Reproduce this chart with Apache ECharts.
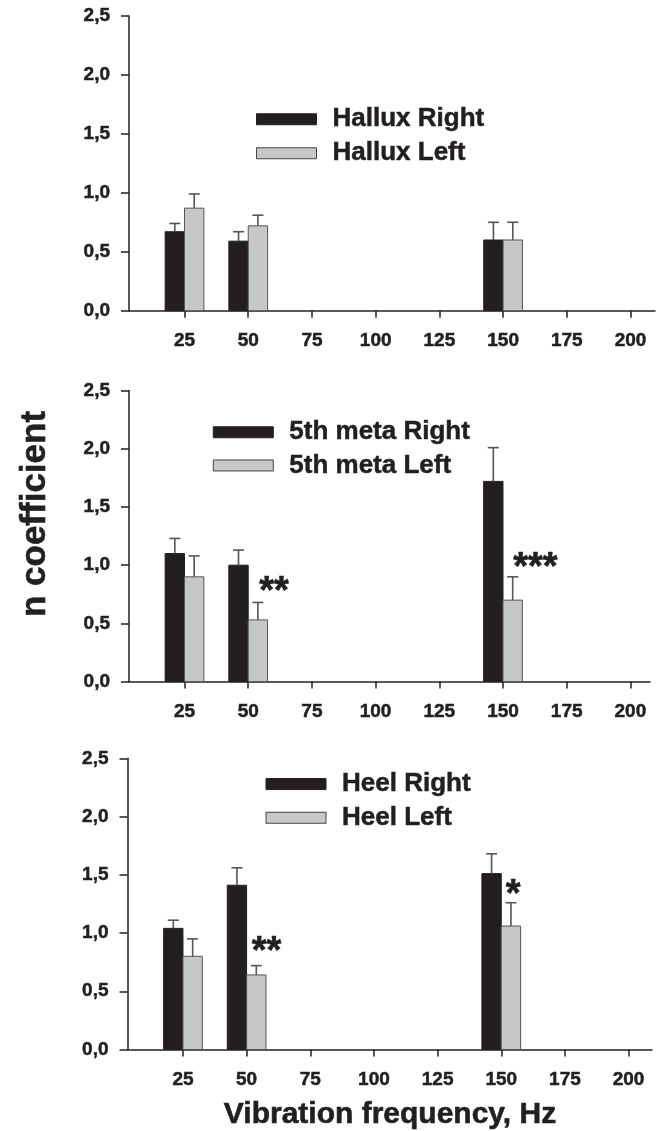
<!DOCTYPE html>
<html>
<head>
<meta charset="utf-8">
<script src="https://cdn.jsdelivr.net/npm/echarts@6/dist/echarts.min.js"></script>
<style>html,body{margin:0;padding:0;background:#fff}#c{width:666px;height:1131px}</style>
</head>
<body>
<div id="c"></div>
<script>
// ---- data ----
const xTickLabels = [25, 50, 75, 100, 125, 150, 175, 200];
const yTickLabels = ['0,0', '0,5', '1,0', '1,5', '2,0', '2,5'];
const barFreqs = [25, 50, 150];

const halluxRight   = [0.67, 0.59, 0.60];
const halluxRightSE = [0.07, 0.08, 0.15];
const halluxLeft    = [0.87, 0.72, 0.60];
const halluxLeftSE  = [0.12, 0.09, 0.15];

const metaRight   = [1.10, 1.00, 1.72];
const metaRightSE = [0.13, 0.13, 0.29];
const metaLeft    = [0.90, 0.53, 0.70];
const metaLeftSE  = [0.18, 0.15, 0.20];

const heelRight   = [1.04, 1.41, 1.51];
const heelRightSE = [0.07, 0.15, 0.17];
const heelLeft    = [0.80, 0.64, 1.06];
const heelLeftSE  = [0.15, 0.08, 0.20];

const panelNames = [
  ['Hallux Right', 'Hallux Left'],
  ['5th meta Right', '5th meta Left'],
  ['Heel Right', 'Heel Left']
];
// significance marks: [x, y, text]
const sigMarks = [
  [],
  [[60.1, 0.84, '**'], [162.7, 1.05, '***']],
  [[57.8, 0.91, '**'], [154.7, 1.40, '*']]
];
const xTitle = 'Vibration frequency, Hz';
const yTitle = 'n coefficient';

// ---- layout / style ----
const FONT = 'Liberation Sans';
const INK = '#231f20';
const DARK = '#231f20';
const GREY = '#c6c7c9';
const ERR = '#555555';
const BAR_W = 7.6; // in x-axis units
const grids = [
  {left: 129, top: 16, height: 294.7, right: 11},
  {left: 129, top: 390.6, height: 291, right: 16},
  {left: 127.5, top: 758.3, height: 291.2, right: 14}
];
const xMin = 3.22;
const xMax = [209.6, 207.7, 209.2];
const legendPos = [
  {left: 256, top: 106, itemGap: 7.5},
  {left: 212.8, top: 419, itemGap: 6.7},
  {left: 265.5, top: 770.8, itemGap: 7.2}
];

function mk(vals, ses) { return barFreqs.map((f, i) => [f, vals[i], ses[i]]); }
const panelData = [
  [mk(halluxRight, halluxRightSE), mk(halluxLeft, halluxLeftSE)],
  [mk(metaRight, metaRightSE), mk(metaLeft, metaLeftSE)],
  [mk(heelRight, heelRightSE), mk(heelLeft, heelLeftSE)]
];

function barRenderer(side, fill, stroke) {
  return function (params, api) {
    const x = api.value(0), v = api.value(1), se = api.value(2);
    const x0 = side < 0 ? x - BAR_W : x;
    const x1 = side < 0 ? x : x + BAR_W;
    const p0 = api.coord([x0, v]);
    const p1 = api.coord([x1, 0]);
    const cx = (p0[0] + p1[0]) / 2;
    const et = api.coord([x, v + se])[1];
    return {
      type: 'group',
      children: [
        {type: 'rect', shape: {x: p0[0], y: p0[1], width: p1[0] - p0[0], height: p1[1] - p0[1]},
         style: {fill: fill, stroke: stroke, lineWidth: 1}},
        {type: 'line', shape: {x1: cx, y1: p0[1], x2: cx, y2: et}, style: {stroke: ERR, lineWidth: 1.6}},
        {type: 'line', shape: {x1: cx - 5.5, y1: et, x2: cx + 5.5, y2: et}, style: {stroke: ERR, lineWidth: 1.6}}
      ]
    };
  };
}

function sigRenderer(params, api) {
  const p = api.coord([api.value(0), api.value(1)]);
  return {
    type: 'text',
    style: {text: api.value(2), x: p[0], y: p[1] + 9, align: 'center', verticalAlign: 'middle',
            font: 'bold 38px "' + FONT + '"', fill: INK, stroke: INK, lineWidth: 0.6}
  };
}

const labelFont = {color: INK, fontFamily: FONT, fontWeight: 'bold', fontSize: 19,
                   textBorderColor: INK, textBorderWidth: 0.5};

const option = {
  backgroundColor: '#fff',
  animation: false,
  grid: grids,
  xAxis: grids.map((g, i) => Object.assign({
    type: 'value', gridIndex: i, min: xMin, max: xMax[i],
    axisLine: {show: true, onZero: false, lineStyle: {color: INK, width: 1.5}},
    axisTick: {show: true, length: 7, customValues: xTickLabels, lineStyle: {color: INK, width: 1.5}},
    axisLabel: Object.assign({customValues: xTickLabels, margin: 21}, labelFont),
    splitLine: {show: false}
  })),
  yAxis: grids.map((g, i) => ({
    type: 'value', gridIndex: i, min: 0, max: 2.5, interval: 0.5,
    axisLine: {show: true, lineStyle: {color: INK, width: 1.5}},
    axisTick: {show: true, length: 8, lineStyle: {color: INK, width: 1.5}},
    axisLabel: Object.assign({margin: 19, formatter: v => yTickLabels[Math.round(v / 0.5)]}, labelFont),
    splitLine: {show: false}
  })),
  legend: legendPos.map((lp, i) => ({
    orient: 'vertical', left: lp.left, top: lp.top, itemGap: lp.itemGap, padding: 0,
    itemWidth: 60, itemHeight: 11, icon: 'rect', selectedMode: false,
    data: [
      {name: panelNames[i][0], itemStyle: {color: DARK, borderColor: DARK, borderWidth: 1}},
      {name: panelNames[i][1], itemStyle: {color: GREY, borderColor: '#444', borderWidth: 1}}
    ],
    textStyle: {color: INK, fontFamily: FONT, fontWeight: 'bold', fontSize: 26, lineHeight: 26,
                padding: [0, 0, 0, 11], textBorderColor: INK, textBorderWidth: 0.5}
  })),
  series: [],
  graphic: [
    {type: 'text', x: 390, y: 1115, style: {text: xTitle, align: 'center', verticalAlign: 'middle',
      font: 'bold 30px "' + FONT + '"', fill: INK, stroke: INK, lineWidth: 0.6}},
    {type: 'text', x: 35, y: 514, rotation: Math.PI / 2, style: {text: yTitle, align: 'center', verticalAlign: 'middle',
      font: 'bold 35px "' + FONT + '"', fill: INK, stroke: INK, lineWidth: 0.6}}
  ]
};

panelData.forEach((pd, i) => {
  option.series.push({
    type: 'custom', name: panelNames[i][0], xAxisIndex: i, yAxisIndex: i,
    itemStyle: {color: DARK, borderColor: DARK},
    renderItem: barRenderer(-1, DARK, DARK), data: pd[0], clip: false
  });
  option.series.push({
    type: 'custom', name: panelNames[i][1], xAxisIndex: i, yAxisIndex: i,
    itemStyle: {color: GREY, borderColor: '#444'},
    renderItem: barRenderer(1, GREY, '#555'), data: pd[1], clip: false
  });
  if (sigMarks[i].length) {
    option.series.push({
      type: 'custom', name: 'sig' + i, xAxisIndex: i, yAxisIndex: i,
      renderItem: sigRenderer, data: sigMarks[i], clip: false,
      encode: {x: 0, y: 1}
    });
  }
});

const chart = echarts.init(document.getElementById('c'), null, {renderer: 'canvas'});
chart.setOption(option);
</script>
</body>
</html>
